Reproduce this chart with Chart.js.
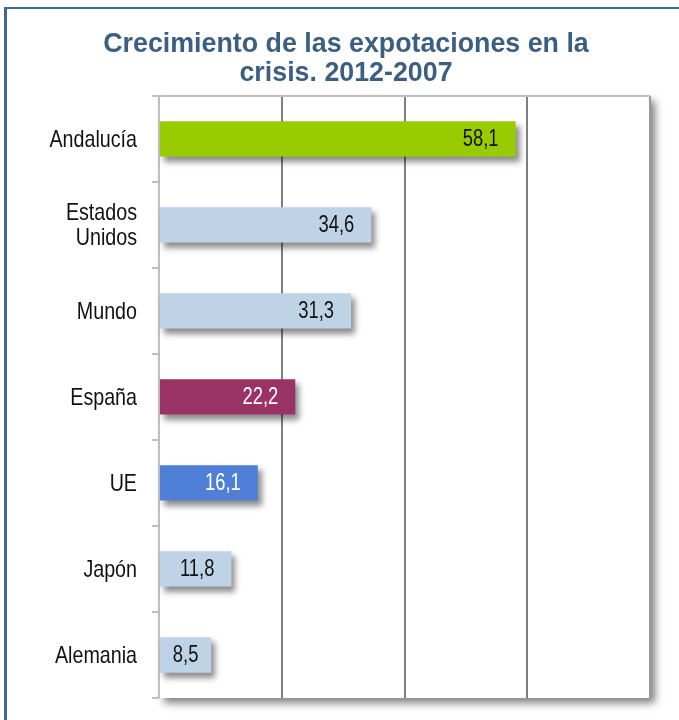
<!DOCTYPE html>
<html>
<head>
<meta charset="utf-8">
<script src="https://cdn.jsdelivr.net/npm/chart.js@4/dist/chart.umd.min.js"></script>
<style>
  html, body { margin: 0; padding: 0; background: #fff; }
  #wrap { position: relative; width: 679px; height: 720px; overflow: hidden; }
  #frame { position: absolute; left: 4px; top: 7px; width: 900px; height: 900px;
           border-left: 3px solid #3e6990; border-top: 2px solid #3e6990; }
  canvas { position: absolute; left: 0; top: 0; }
</style>
</head>
<body>
<div id="wrap">
  <div id="frame"></div>
  <canvas id="myChart" width="679" height="720"></canvas>
</div>
<script>
const categories = ['Andalucía', ['Estados', 'Unidos'], 'Mundo', 'España', 'UE', 'Japón', 'Alemania'];
const values = [58.1, 34.6, 31.3, 22.2, 16.1, 11.8, 8.5];
const barColors = ['#99cc00', '#bfd3e6', '#bfd3e6', '#993366', '#4f7fd7', '#bfd3e6', '#bfd3e6'];
const labelColors = ['#111', '#111', '#111', '#fff', '#fff', '#111', '#111'];
const xTicks = [0, 20, 40, 60, 80];

const sans = "'Liberation Sans', Arial, sans-serif";
const squeeze = 0.82; // the original text is a condensed face

const framePlugin = {
    id: 'frame',
    beforeDraw(chart) {
        const { ctx, chartArea: a } = chart;
        ctx.save();
        ctx.shadowColor = 'rgba(0,0,0,0.5)';
        ctx.shadowOffsetX = 5;
        ctx.shadowOffsetY = 5;
        ctx.shadowBlur = 8;
        ctx.fillStyle = '#fff';
        ctx.fillRect(a.left, a.top, a.right - a.left, a.bottom - a.top);
        ctx.restore();
    },
    beforeDatasetsDraw(chart) {
        const ctx = chart.ctx;
        ctx.save();
        ctx.shadowColor = 'rgba(0,0,0,0.45)';
        ctx.shadowOffsetX = 4;
        ctx.shadowOffsetY = 5;
        ctx.shadowBlur = 6;
    },
    afterDatasetsDraw(chart) {
        const ctx = chart.ctx;
        ctx.restore();

        // value labels inside the bar ends
        const meta = chart.getDatasetMeta(0);
        ctx.save();
        ctx.font = '23px ' + sans;
        ctx.textAlign = 'right';
        ctx.textBaseline = 'middle';
        meta.data.forEach((bar, i) => {
            const txt = values[i].toFixed(1).replace('.', ',');
            const w = ctx.measureText(txt).width * 0.8;
            const gap = Math.min(17, (bar.x - bar.base - w) / 2);
            ctx.save();
            ctx.translate(bar.x - gap, bar.y + 1);
            ctx.scale(0.8, 1);
            ctx.fillStyle = labelColors[i];
            ctx.fillText(txt, 0, 0);
            ctx.restore();
        });
        ctx.restore();

        // category labels
        const yScale = chart.scales.y;
        ctx.save();
        ctx.font = '24px ' + sans;
        ctx.textAlign = 'right';
        ctx.textBaseline = 'middle';
        ctx.fillStyle = '#111';
        categories.forEach((lab, i) => {
            const lines = Array.isArray(lab) ? lab : [lab];
            const y0 = yScale.getPixelForValue(i) - (lines.length - 1) * 12.5;
            lines.forEach((ln, j) => {
                ctx.save();
                ctx.translate(137, y0 + j * 25 + 1);
                ctx.scale(squeeze, 1);
                ctx.fillText(ln, 0, 0);
                ctx.restore();
            });
        });
        ctx.restore();
    }
};

new Chart(document.getElementById('myChart'), {
    type: 'bar',
    data: {
        labels: categories,
        datasets: [{
            data: values,
            backgroundColor: barColors,
            borderWidth: 0,
            barPercentage: 0.41,
            categoryPercentage: 1
        }]
    },
    options: {
        indexAxis: 'y',
        responsive: false,
        animation: false,
        layout: { padding: { left: 42, right: 29, top: 0, bottom: 22 } },
        plugins: {
            legend: { display: false },
            tooltip: { enabled: false },
            title: {
                display: true,
                text: ['Crecimiento de las expotaciones en la', 'crisis. 2012-2007'],
                color: '#3b5f82',
                font: { family: sans, size: 26.8, weight: 'bold', lineHeight: 1.08 },
                padding: { top: 30, bottom: 8 }
            }
        },
        scales: {
            x: {
                min: 0,
                max: 80,
                afterBuildTicks: (scale) => { scale.ticks = xTicks.map(v => ({ value: v })); },
                afterFit: (scale) => { scale.height = 0; },
                ticks: { display: false },
                border: { display: false },
                grid: {
                    drawTicks: false,
                    lineWidth: 2,
                    color: (c) => c.index === 0 ? '#bfbfbf' : (c.index === xTicks.length - 1 ? '#999999' : '#7f7f7f')
                }
            },
            y: {
                afterFit: (scale) => { scale.width = 159 - 42; },
                border: { display: false },
                grid: {
                    offset: true,
                    drawTicks: true,
                    tickLength: 7,
                    tickColor: '#bfbfbf',
                    lineWidth: 2,
                    color: (c) => (c.index === 0 || c.index === categories.length) ? '#bfbfbf' : 'rgba(0,0,0,0)'
                },
                ticks: { display: false }
            }
        }
    },
    plugins: [framePlugin]
});
</script>
</body>
</html>
